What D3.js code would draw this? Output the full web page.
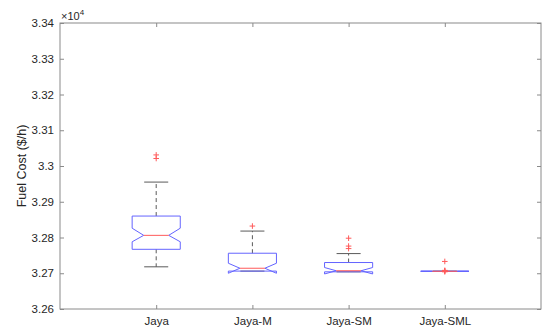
<!DOCTYPE html>
<html><head><meta charset="utf-8">
<script src="https://cdn.jsdelivr.net/npm/d3@7/dist/d3.min.js"></script>
<style>body{margin:0;background:#fff}svg{display:block}text{font-family:"Liberation Sans",Arial,sans-serif}</style>
</head><body>
<svg id="c" width="542" height="330"></svg>
<script>
const categories = ["Jaya","Jaya-M","Jaya-SM","Jaya-SML"];
const whiskerLo = [32718, 32706, 32704, 32705.5];
const q1        = [32767, 32706, 32704, 32705.5];
const medians   = [32806, 32714, 32707, 32705.5];
const q3        = [32860, 32756, 32730, 32705.5];
const whiskerHi = [32955, 32818, 32755, 32705.5];
const notchLo   = [32788, 32700, 32698, 32705.5];
const notchHi   = [32826, 32728, 32716, 32705.5];
const outliers  = [[33031, 33021],[32832],[32798, 32776, 32769],[32733, 32708, 32706, 32704, 32707]];
const yTicks = [32600,32700,32800,32900,33000,33100,33200,33300,33400];
const yTickLabels = ["3.26","3.27","3.28","3.29","3.3","3.31","3.32","3.33","3.34"];

const svg = d3.select("#c");
const L=60,R=541,T=23,B=309;
const x = d3.scaleLinear().domain([0,5]).range([L,R]);
const y = d3.scaleLinear().domain([32600,33400]).range([B,T]);
const axisCol="#8a8a8a", txtCol="#262626";

svg.append("rect").attr("x",L).attr("y",T).attr("width",R-L).attr("height",B-T)
  .attr("fill","none").attr("stroke",axisCol).attr("stroke-width",1);

const ya = svg.append("g").attr("transform",`translate(${L},0)`)
  .call(d3.axisLeft(y).tickValues(yTicks).tickFormat((d,i)=>yTickLabels[i]).tickSizeInner(-4).tickSizeOuter(0).tickPadding(6));
ya.select(".domain").remove();
ya.selectAll("line").attr("stroke",axisCol);
ya.selectAll("text").attr("fill",txtCol).style("font-size","11.5px");
const yr = svg.append("g").attr("transform",`translate(${R},0)`)
  .call(d3.axisRight(y).tickValues(yTicks).tickFormat("").tickSizeInner(-4).tickSizeOuter(0));
yr.select(".domain").remove(); yr.selectAll("line").attr("stroke",axisCol);

const xa = svg.append("g").attr("transform",`translate(0,${B})`)
  .call(d3.axisBottom(x).tickValues([1,2,3,4]).tickFormat((d,i)=>categories[i]).tickSizeInner(-4).tickSizeOuter(0).tickPadding(8));
xa.select(".domain").remove();
xa.selectAll("line").attr("stroke",axisCol);
xa.selectAll("text").attr("fill",txtCol).style("font-size","11.5px");
const xt = svg.append("g").attr("transform",`translate(0,${T})`)
  .call(d3.axisTop(x).tickValues([1,2,3,4]).tickFormat("").tickSizeInner(-4).tickSizeOuter(0));
xt.select(".domain").remove(); xt.selectAll("line").attr("stroke",axisCol);

const ex = svg.append("text").attr("x",L+1).attr("y",20).attr("fill",txtCol).style("font-size","11px");
ex.append("tspan").text("\u00d710");
ex.append("tspan").attr("dy",-5).style("font-size","8px").text("4");

svg.append("text").attr("transform",`translate(26,${(T+B)/2}) rotate(-90)`)
  .attr("text-anchor","middle").attr("fill",txtCol).style("font-size","12.5px").text("Fuel Cost ($/h)");

const boxHalf=0.25, inHalf=0.13, capHalf=0.125;
const blue="#6464ff", red="#ff5a5a", blk="#5a5a5a";
const g = svg.append("g");
categories.forEach((c,i)=>{
  const cx=i+1;
  g.append("line").attr("x1",x(cx)).attr("x2",x(cx)).attr("y1",y(q3[i])).attr("y2",y(whiskerHi[i]))
    .attr("stroke",blk).attr("stroke-dasharray","4,3");
  g.append("line").attr("x1",x(cx)).attr("x2",x(cx)).attr("y1",y(q1[i])).attr("y2",y(whiskerLo[i]))
    .attr("stroke",blk).attr("stroke-dasharray","4,3");
  [whiskerHi[i],whiskerLo[i]].forEach(v=>{
    g.append("line").attr("x1",x(cx-capHalf)).attr("x2",x(cx+capHalf)).attr("y1",y(v)).attr("y2",y(v))
      .attr("stroke",blk);
  });
  const pts=[[cx-boxHalf,q1[i]],[cx-boxHalf,notchLo[i]],[cx-inHalf,medians[i]],[cx-boxHalf,notchHi[i]],
    [cx-boxHalf,q3[i]],[cx+boxHalf,q3[i]],[cx+boxHalf,notchHi[i]],[cx+inHalf,medians[i]],
    [cx+boxHalf,notchLo[i]],[cx+boxHalf,q1[i]]];
  g.append("path").attr("d",d3.line().x(d=>x(d[0])).y(d=>y(d[1]))(pts)+"Z")
    .attr("fill","none").attr("stroke",blue);
  g.append("line").attr("x1",x(cx-inHalf)).attr("x2",x(cx+inHalf)).attr("y1",y(medians[i])).attr("y2",y(medians[i]))
    .attr("stroke",red);
  outliers[i].forEach(v=>{
    const px=x(cx), py=y(v), s=2.8;
    g.append("path").attr("d",`M${px-s},${py}H${px+s}M${px},${py-s}V${py+s}`).attr("stroke",red).attr("fill","none");
  });
});
</script>
</body></html>
